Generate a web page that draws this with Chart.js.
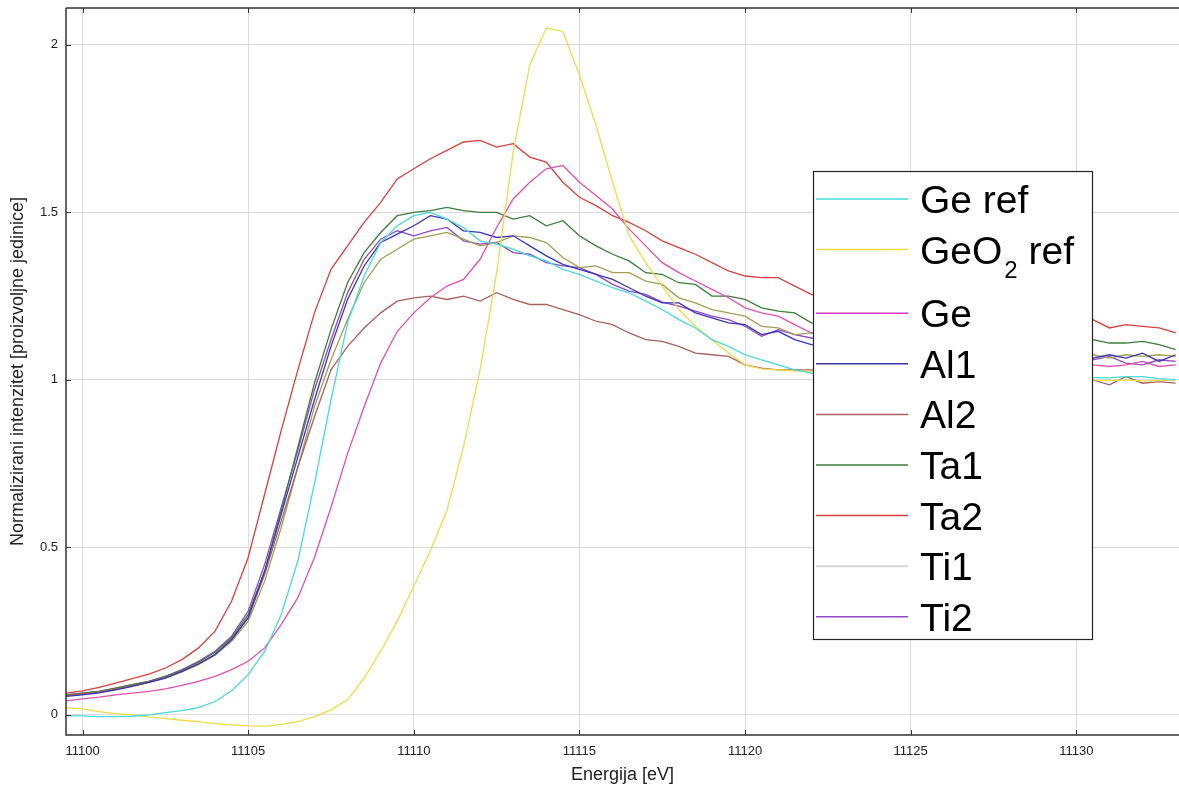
<!DOCTYPE html>
<html>
<head>
<meta charset="utf-8">
<title>Ge K-edge XANES</title>
<script src="https://cdn.jsdelivr.net/npm/chart.js@4.4.1/dist/chart.umd.min.js"></script>
<style>
    html, body { margin: 0; padding: 0; background: #fff; }
    #xanes { display: block; }
</style>
</head>
<body>
<canvas id="xanes" width="1179" height="787"></canvas>
<script>

// energija [eV], korak 0.5 eV
const energies = [
    11099.5, 11100, 11100.5, 11101, 11101.5, 11102, 11102.5, 11103, 11103.5, 11104,
    11104.5, 11105, 11105.5, 11106, 11106.5, 11107, 11107.5, 11108, 11108.5, 11109,
    11109.5, 11110, 11110.5, 11111, 11111.5, 11112, 11112.5, 11113, 11113.5, 11114,
    11114.5, 11115, 11115.5, 11116, 11116.5, 11117, 11117.5, 11118, 11118.5, 11119,
    11119.5, 11120, 11120.5, 11121, 11121.5, 11122,
    11122.5, 11123, 11123.5, 11124, 11124.5, 11125, 11125.5, 11126, 11126.5, 11127,
    11127.5, 11128, 11128.5, 11129, 11129.5, 11130,
    11130.5, 11131, 11131.5, 11132, 11132.5, 11133
];

const geRef = [
    -0.002, -0.003, -0.005, -0.005, -0.004, 0.0, 0.007, 0.013, 0.022, 0.04,
    0.072, 0.12, 0.19, 0.30, 0.46, 0.69, 0.94, 1.17, 1.31, 1.41,
    1.46, 1.49, 1.50, 1.48, 1.455, 1.415, 1.405, 1.39, 1.37, 1.355,
    1.33, 1.315, 1.295, 1.275, 1.26, 1.235, 1.21, 1.18, 1.155, 1.12,
    1.10, 1.075, 1.06, 1.045, 1.03, 1.02,
    1.015, 1.012, 1.01, 1.008, 1.006, 1.004, 1.003, 1.002, 1.002, 1.003,
    1.004, 1.005, 1.005, 1.006, 1.006, 1.007,
    1.007, 1.006, 1.01, 1.01, 1.004, 1.0
];

const geo2Ref = [
    0.022, 0.018, 0.01, 0.004, 0.0, -0.006, -0.011, -0.016, -0.02, -0.026,
    -0.03, -0.033, -0.034, -0.028, -0.02, -0.005, 0.015, 0.045, 0.11, 0.19,
    0.28, 0.385, 0.49, 0.61, 0.80, 1.03, 1.32, 1.68, 1.94, 2.05,
    2.04, 1.91, 1.76, 1.59, 1.43, 1.35, 1.28, 1.21, 1.16, 1.12,
    1.08, 1.045, 1.033, 1.03, 1.027, 1.025,
    1.022, 1.02, 1.018, 1.015, 1.013, 1.01, 1.008, 1.006, 1.005, 1.004,
    1.003, 1.002, 1.002, 1.001, 1.0, 1.0,
    1.0, 0.998, 1.0, 0.996, 0.998, 1.0
];

const ge = [
    0.042, 0.048, 0.053, 0.06, 0.065, 0.07, 0.078, 0.088, 0.10, 0.115,
    0.135, 0.16, 0.20, 0.27, 0.35, 0.47, 0.62, 0.78, 0.92, 1.05,
    1.145, 1.20, 1.245, 1.28, 1.30, 1.36, 1.455, 1.54, 1.59, 1.63,
    1.64, 1.59, 1.55, 1.51, 1.45, 1.40, 1.35, 1.32, 1.295, 1.27,
    1.245, 1.215, 1.20, 1.19, 1.165, 1.14,
    1.13, 1.12, 1.11, 1.105, 1.095, 1.09, 1.08, 1.075, 1.07, 1.065,
    1.06, 1.055, 1.05, 1.05, 1.045, 1.045,
    1.045, 1.04, 1.045, 1.055, 1.04, 1.045
];

const al1 = [
    0.055, 0.06, 0.066, 0.075, 0.085, 0.097, 0.11, 0.13, 0.152, 0.18,
    0.225, 0.29, 0.43, 0.60, 0.77, 0.94, 1.10, 1.24, 1.34, 1.41,
    1.435, 1.46, 1.49, 1.48, 1.445, 1.44, 1.425, 1.43, 1.40, 1.37,
    1.345, 1.33, 1.315, 1.30, 1.275, 1.25, 1.23, 1.23, 1.20, 1.185,
    1.17, 1.165, 1.135, 1.145, 1.12, 1.105,
    1.10, 1.095, 1.09, 1.09, 1.085, 1.08, 1.08, 1.075, 1.075, 1.07,
    1.07, 1.07, 1.065, 1.07, 1.065, 1.07,
    1.065, 1.075, 1.065, 1.08, 1.055, 1.075
];

const al2 = [
    0.058, 0.063, 0.068, 0.077, 0.087, 0.098, 0.112, 0.13, 0.153, 0.18,
    0.225, 0.29, 0.42, 0.58, 0.74, 0.89, 1.03, 1.10, 1.155, 1.20,
    1.235, 1.245, 1.25, 1.24, 1.25, 1.235, 1.26, 1.24, 1.225, 1.225,
    1.21, 1.195, 1.175, 1.165, 1.14, 1.12, 1.115, 1.10, 1.08, 1.075,
    1.07, 1.045, 1.035, 1.03, 1.03, 1.03,
    1.025, 1.02, 1.02, 1.015, 1.015, 1.01, 1.01, 1.005, 1.005, 1.0,
    1.0, 1.0, 0.995, 0.995, 0.995, 0.99,
    1.0, 0.985, 1.01, 0.99, 0.995, 0.99
];

const ta1 = [
    0.06, 0.065, 0.07, 0.08, 0.09, 0.10, 0.115, 0.133, 0.157, 0.187,
    0.23, 0.30, 0.43, 0.61, 0.80, 0.99, 1.15, 1.29, 1.38, 1.44,
    1.49, 1.50, 1.505, 1.515, 1.505, 1.50, 1.50, 1.48, 1.49, 1.46,
    1.475, 1.43, 1.40, 1.375, 1.355, 1.32, 1.315, 1.29, 1.285, 1.25,
    1.25, 1.24, 1.215, 1.205, 1.20, 1.17,
    1.165, 1.16, 1.155, 1.15, 1.145, 1.14, 1.14, 1.135, 1.13, 1.13,
    1.125, 1.125, 1.12, 1.12, 1.12, 1.12,
    1.12, 1.11, 1.11, 1.115, 1.105, 1.09
];

const ta2 = [
    0.065, 0.072, 0.082, 0.095, 0.108, 0.122, 0.14, 0.165, 0.20, 0.25,
    0.34, 0.47, 0.66, 0.85, 1.03, 1.20, 1.33, 1.40, 1.47, 1.53,
    1.60, 1.63, 1.66, 1.685, 1.71, 1.715, 1.695, 1.705, 1.665, 1.65,
    1.59, 1.545, 1.52, 1.49, 1.47, 1.445, 1.415, 1.395, 1.375, 1.35,
    1.325, 1.31, 1.305, 1.305, 1.28, 1.255,
    1.245, 1.235, 1.23, 1.225, 1.22, 1.215, 1.21, 1.205, 1.20, 1.195,
    1.19, 1.19, 1.185, 1.185, 1.18, 1.18,
    1.18, 1.155, 1.165, 1.16, 1.155, 1.14
];

const ti1 = [
    0.057, 0.062, 0.067, 0.076, 0.086, 0.097, 0.11, 0.128, 0.15, 0.178,
    0.22, 0.28, 0.40, 0.56, 0.74, 0.92, 1.06, 1.18, 1.29, 1.36,
    1.39, 1.42, 1.43, 1.44, 1.42, 1.40, 1.41, 1.43, 1.425, 1.41,
    1.365, 1.335, 1.34, 1.32, 1.32, 1.295, 1.285, 1.245, 1.23, 1.21,
    1.20, 1.19, 1.16, 1.155, 1.135, 1.14,
    1.13, 1.12, 1.115, 1.105, 1.10, 1.095, 1.09, 1.085, 1.08, 1.08,
    1.075, 1.075, 1.07, 1.07, 1.07, 1.07,
    1.075, 1.065, 1.075, 1.07, 1.075, 1.07
];

const ti2 = [
    0.06, 0.065, 0.07, 0.08, 0.09, 0.10, 0.115, 0.135, 0.16, 0.19,
    0.235, 0.31, 0.45, 0.62, 0.79, 0.97, 1.12, 1.26, 1.36, 1.42,
    1.445, 1.43, 1.445, 1.455, 1.415, 1.405, 1.41, 1.38, 1.375, 1.35,
    1.34, 1.335, 1.315, 1.285, 1.265, 1.255, 1.232, 1.22, 1.205, 1.19,
    1.18, 1.16, 1.13, 1.15, 1.135, 1.125,
    1.115, 1.105, 1.10, 1.09, 1.085, 1.08, 1.075, 1.07, 1.07, 1.065,
    1.065, 1.06, 1.06, 1.06, 1.055, 1.06,
    1.06, 1.07, 1.05, 1.045, 1.06, 1.055
];

const seriesLabels = ['Ge ref', 'GeO2 ref', 'Ge', 'Al1', 'Al2', 'Ta1', 'Ta2', 'Ti1', 'Ti2'];
const seriesValues = [geRef, geo2Ref, ge, al1, al2, ta1, ta2, ti1, ti2];
const xTicks = [11100, 11105, 11110, 11115, 11120, 11125, 11130];
const yTicks = [0, 0.5, 1, 1.5, 2];

// boje linija i boje u legendi
const lineColors = ['#46dada', '#eedc46', '#e050b0', '#3a36b8', '#a8625e', '#3c7e3c', '#d8403e', '#a2a052', '#9448c4'];
const keyColors = ['#46dada', '#eedc46', '#d838c8', '#3a36a0', '#a8625e', '#3c7e3c', '#d8403e', '#d4d4d4', '#9448c4'];

const FONT = "'Liberation Sans', Arial, sans-serif";

function toPoints(values) {
    return values.map(function (v, i) {
        return {x: energies[i], y: v};
    });
}

let datasets = seriesValues.map(function (values, i) {
    return {
        label: seriesLabels[i],
        data: toPoints(values),
        borderColor: lineColors[i],
        backgroundColor: lineColors[i],
        borderWidth: 1.3,
        pointRadius: 0,
        tension: 0,
        fill: false
    };
});

// okvir, unutarnje crtice i legenda
const framePlugin = {
    id: 'frame',
    afterDraw: function (chart) {
        const ctx = chart.ctx;
        const a = chart.chartArea;
        const sx = chart.scales.x;
        const sy = chart.scales.y;

        ctx.save();
        ctx.strokeStyle = '#333';
        ctx.lineWidth = 1.5;
        ctx.beginPath();
        ctx.moveTo(a.left, a.top);
        ctx.lineTo(a.right, a.top);
        ctx.moveTo(a.left, a.top);
        ctx.lineTo(a.left, a.bottom);
        ctx.lineTo(a.right, a.bottom);
        ctx.stroke();

        ctx.lineWidth = 1;
        ctx.beginPath();
        xTicks.forEach(function (t) {
            let px = Math.round(sx.getPixelForValue(t)) + 0.5;
            ctx.moveTo(px, a.bottom);
            ctx.lineTo(px, a.bottom - 5);
            ctx.moveTo(px, a.top);
            ctx.lineTo(px, a.top + 5);
        });
        yTicks.forEach(function (t) {
            let py = Math.round(sy.getPixelForValue(t)) + 0.5;
            ctx.moveTo(a.left, py);
            ctx.lineTo(a.left + 5, py);
        });
        ctx.stroke();

        // legenda
        const box = {left: 813, top: 171, width: 279, height: 468};
        ctx.fillStyle = '#fff';
        ctx.fillRect(box.left, box.top, box.width, box.height);
        ctx.strokeStyle = '#222';
        ctx.lineWidth = 1.2;
        ctx.strokeRect(box.left + 0.5, box.top + 0.5, box.width, box.height);

        ctx.font = '39px ' + FONT;
        ctx.textBaseline = 'alphabetic';
        ctx.textAlign = 'left';
        seriesLabels.forEach(function (label, i) {
            let cy = box.top + 28 + 50.6 * i + (i >= 2 ? 13 : 0);
            ctx.strokeStyle = keyColors[i];
            ctx.lineWidth = i === 7 ? 2 : 1.5;
            ctx.beginPath();
            ctx.moveTo(box.left + 3, cy);
            ctx.lineTo(box.left + 95, cy);
            ctx.stroke();

            ctx.fillStyle = '#000';
            let tx = box.left + 107;
            let base = cy + 14;
            if (label === 'GeO2 ref') {
                ctx.font = '39px ' + FONT;
                ctx.fillText('GeO', tx, base);
                tx += ctx.measureText('GeO').width + 2;
                ctx.font = '24px ' + FONT;
                ctx.fillText('2', tx, base + 14);
                tx += ctx.measureText('2').width;
                ctx.font = '39px ' + FONT;
                ctx.fillText(' ref', tx, base);
            } else {
                ctx.font = '39px ' + FONT;
                ctx.fillText(label, tx, base);
            }
        });
        ctx.restore();
    }
};

let ctx = document.getElementById('xanes');
let xanesChart = new Chart(ctx, {
    type: 'line',
    data: {
        datasets: datasets
    },
    options: {
        responsive: false,
        animation: false,
        events: [],
        layout: {
            padding: {top: 8, right: 0, bottom: 0, left: 0}
        },
        plugins: {
            legend: {display: false},
            tooltip: {enabled: false}
        },
        scales: {
            x: {
                type: 'linear',
                min: 11099.5,
                max: 11133.1,
                afterFit: function (scale) {
                    scale.height = 52;
                    scale.paddingLeft = 0;
                    scale.paddingRight = 0;
                },
                afterBuildTicks: function (scale) {
                    scale.ticks = xTicks.map(function (v) { return {value: v}; });
                },
                ticks: {
                    padding: 9,
                    color: '#222',
                    font: {family: FONT, size: 13},
                    maxRotation: 0,
                    callback: function (value) { return String(value); }
                },
                grid: {color: '#dcdcdc', lineWidth: 1, drawTicks: false},
                border: {display: false},
                title: {
                    display: true,
                    text: 'Energija [eV]',
                    color: '#222',
                    font: {family: FONT, size: 18},
                    padding: {top: 0, bottom: 1}
                }
            },
            y: {
                type: 'linear',
                min: -0.06,
                max: 2.11,
                afterFit: function (scale) {
                    scale.width = 66;
                    scale.paddingTop = 0;
                    scale.paddingBottom = 0;
                },
                afterBuildTicks: function (scale) {
                    scale.ticks = yTicks.map(function (v) { return {value: v}; });
                },
                ticks: {
                    padding: 8,
                    color: '#222',
                    font: {family: FONT, size: 13},
                    callback: function (value) { return String(value); }
                },
                grid: {color: '#dcdcdc', lineWidth: 1, drawTicks: false},
                border: {display: false},
                title: {
                    display: true,
                    text: 'Normalizirani intenzitet [proizvoljne jedinice]',
                    color: '#222',
                    font: {family: FONT, size: 18},
                    padding: {top: 7, bottom: 0}
                }
            }
        }
    },
    plugins: [framePlugin]
});

</script>
</body>
</html>
